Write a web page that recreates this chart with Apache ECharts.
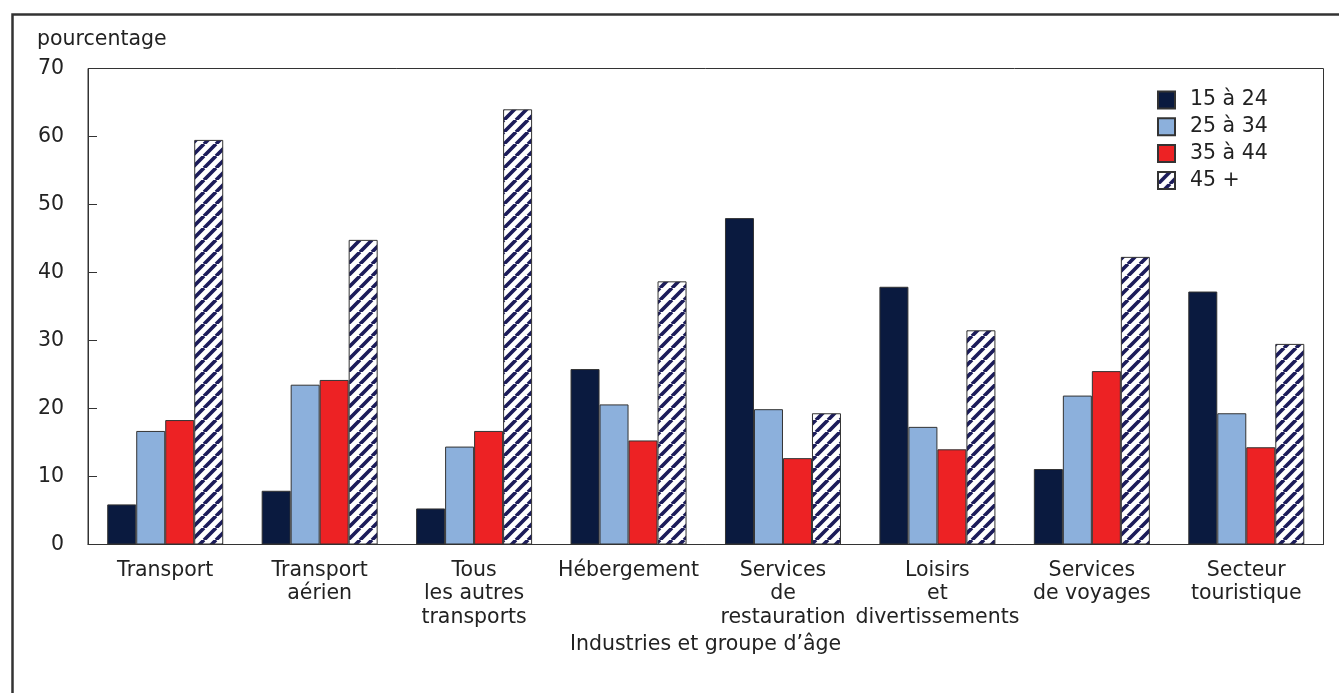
<!DOCTYPE html>
<html>
<head>
<meta charset="utf-8">
<script src="https://cdn.jsdelivr.net/npm/echarts@6/dist/echarts.min.js"></script>
<style>
html,body{margin:0;padding:0;background:#fff;}
#chart{width:1339px;height:693px;}
</style>
</head>
<body>
<div id="chart"></div>
<script>
const categories = ["Transport", "Transport\naérien", "Tous\nles autres\ntransports", "Hébergement", "Services\nde\nrestauration", "Loisirs\net\ndivertissements", "Services\nde voyages", "Secteur\ntouristique"];
const seriesNames = ["15 à 24", "25 à 34", "35 à 44", "45 +"];
const age15to24 = [5.9, 7.9, 5.3, 25.8, 48.0, 37.9, 11.1, 37.2];
const age25to34 = [16.7, 23.5, 14.4, 20.6, 19.9, 17.3, 21.9, 19.3];
const age35to44 = [18.3, 24.2, 16.7, 15.3, 12.7, 14.0, 25.5, 14.3];
const age45plus = [59.5, 44.8, 64.0, 38.7, 19.3, 31.5, 42.3, 29.5];
const yTicks = [0, 10, 20, 30, 40, 50, 60, 70];

const FONT = 'DejaVu Sans';
const FS = 20.5;
const TXT = '#222';

function hatch() {
  const s = 12;
  const c = document.createElement('canvas');
  c.width = s; c.height = s;
  const g = c.getContext('2d');
  g.fillStyle = '#ffffff';
  g.fillRect(0, 0, s, s);
  g.strokeStyle = '#1c1c5a';
  g.lineWidth = 3.7;
  g.beginPath();
  for (let k = -1; k <= 1; k++) {
    g.moveTo(k * s, s);
    g.lineTo(k * s + s, 0);
  }
  g.stroke();
  return c;
}

const chart = echarts.init(document.getElementById('chart'), null, {renderer: 'canvas'});
const bw = 29;
const border = {borderColor: '#333', borderWidth: 1};
const option = {
  animation: false,
  backgroundColor: '#fff',
  textStyle: {fontFamily: FONT},
  grid: {left: 88, right: 15.5, top: 68.5, bottom: 148.5, show: true, borderColor: '#333', borderWidth: 1, backgroundColor: 'transparent'},
  legend: {
    orient: 'vertical', left: 1157, top: 89.5, padding: 0,
    itemWidth: 17, itemHeight: 17, itemGap: 5.8,
    textStyle: {fontFamily: FONT, fontSize: FS, lineHeight: 17, color: TXT, padding: [0, 0, 0, 10]},
    data: seriesNames.map(n => ({name: n, icon: 'rect'}))
  },
  xAxis: {
    type: 'category', data: categories,
    axisLine: {lineStyle: {color: '#333', width: 1}},
    axisTick: {inside: true, length: 9, lineStyle: {color: '#333'}},
    axisLabel: {fontFamily: FONT, fontSize: FS, color: TXT, lineHeight: 23.5, margin: 14, interval: 0}
  },
  yAxis: {
    type: 'value', min: yTicks[0], max: yTicks[yTicks.length - 1], interval: 10,
    splitLine: {show: false},
    axisLine: {show: true, lineStyle: {color: '#333', width: 1}},
    axisTick: {show: true, inside: true, length: 9, lineStyle: {color: '#333'}},
    axisLabel: {fontFamily: FONT, fontSize: FS, color: TXT, margin: 24}
  },
  graphic: [
    {type: 'rect', shape: {x: 12.5, y: 14.5, width: 1500, height: 900}, style: {fill: 'none', stroke: '#333', lineWidth: 2.5}, silent: true},
    {type: 'text', left: 37, top: 29, style: {text: 'pourcentage', font: FS + 'px "DejaVu Sans"', fill: TXT}},
    {type: 'text', x: 705.5, y: 645, style: {text: 'Industries et groupe d’âge', font: FS + 'px "DejaVu Sans"', fill: TXT, align: 'center', verticalAlign: 'middle'}}
  ],
  series: [
    {name: seriesNames[0], type: 'bar', data: age15to24, barWidth: bw, barGap: '0%', itemStyle: Object.assign({color: '#0a1a3f'}, border)},
    {name: seriesNames[1], type: 'bar', data: age25to34, barWidth: bw, barGap: '0%', itemStyle: Object.assign({color: '#8cb0dc'}, border)},
    {name: seriesNames[2], type: 'bar', data: age35to44, barWidth: bw, barGap: '0%', itemStyle: Object.assign({color: '#ed2224'}, border)},
    {name: seriesNames[3], type: 'bar', data: age45plus, barWidth: bw, barGap: '0%', itemStyle: Object.assign({color: {image: hatch(), repeat: 'repeat'}}, border)}
  ]
};
chart.setOption(option);
</script>
</body>
</html>
